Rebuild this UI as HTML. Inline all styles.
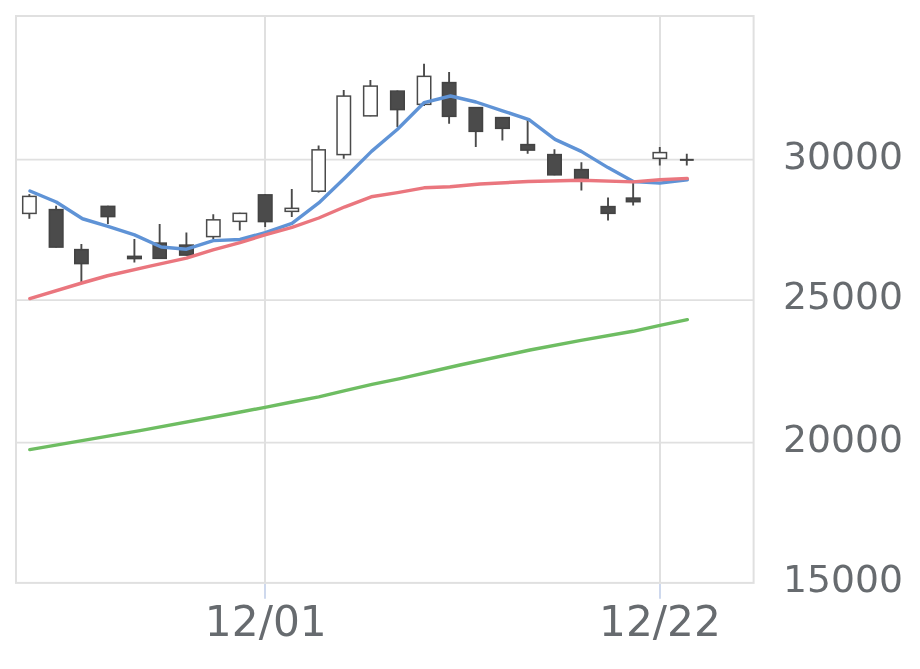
<!DOCTYPE html>
<html lang="en"><head><meta charset="utf-8"><title>Chart</title>
<style>
html,body{margin:0;padding:0;background:#fff;}
body{width:920px;height:669px;overflow:hidden;}
svg{display:block;}
text{font-family:"DejaVu Sans","Liberation Sans",sans-serif;fill:#676b6f;}
.y{font-size:37.7px;}
.x{font-size:42.3px;text-anchor:middle;}
</style></head><body>
<svg width="920" height="669" viewBox="0 0 920 669">
<rect width="920" height="669" fill="#fff"/>
<g stroke="#e0e0e0" stroke-width="2" fill="none">
<rect x="16" y="16" width="737.6" height="566.9"/>
<line x1="16" x2="753.5" y1="159.6" y2="159.6" stroke-width="1.8"/>
<line x1="16" x2="753.5" y1="300.2" y2="300.2" stroke-width="1.8"/>
<line x1="16" x2="753.5" y1="442.6" y2="442.6" stroke-width="1.8"/>
<line x1="265" x2="265" y1="16" y2="582.9"/>
<line x1="660" x2="660" y1="16" y2="582.9"/>
</g>
<g stroke="#ccd7ed" stroke-width="1.9"><line x1="265" x2="265" y1="583.9" y2="598.8"/><line x1="660" x2="660" y1="583.9" y2="598.8"/></g>
<g stroke="#4a4a4a" stroke-width="1.9">
<line x1="29.345" x2="29.345" y1="194.1" y2="218.8"/>
<line x1="56.1" x2="56.1" y1="205.75" y2="247.5"/>
<line x1="81.375" x2="81.375" y1="244" y2="282"/>
<line x1="107.9" x2="107.9" y1="205.75" y2="224"/>
<line x1="134.4" x2="134.4" y1="239" y2="262.5"/>
<line x1="159.65" x2="159.65" y1="224" y2="258.75"/>
<line x1="186.4" x2="186.4" y1="232.5" y2="255.5"/>
<line x1="213.275" x2="213.275" y1="214.25" y2="239"/>
<line x1="239.775" x2="239.775" y1="212.75" y2="230.5"/>
<line x1="265.15" x2="265.15" y1="194.25" y2="227"/>
<line x1="291.775" x2="291.775" y1="189" y2="217"/>
<line x1="318.6" x2="318.6" y1="145.5" y2="192.5"/>
<line x1="343.725" x2="343.725" y1="90" y2="158.75"/>
<line x1="370.4" x2="370.4" y1="80" y2="116.25"/>
<line x1="397.4" x2="397.4" y1="90.5" y2="127"/>
<line x1="424.025" x2="424.025" y1="63.75" y2="106"/>
<line x1="449.1" x2="449.1" y1="72" y2="123.75"/>
<line x1="475.775" x2="475.775" y1="107" y2="147"/>
<line x1="502.4" x2="502.4" y1="117" y2="140.5"/>
<line x1="527.65" x2="527.65" y1="118.75" y2="153.75"/>
<line x1="554.45" x2="554.45" y1="149.25" y2="175.25"/>
<line x1="581.4" x2="581.4" y1="162.25" y2="190.5"/>
<line x1="608.025" x2="608.025" y1="197.5" y2="220.5"/>
<line x1="633.15" x2="633.15" y1="182" y2="205.5"/>
<line x1="659.775" x2="659.775" y1="147" y2="165.5"/>
<line x1="686.775" x2="686.775" y1="153.75" y2="165.5"/>
</g>
<rect x="22.71" y="196.4" width="13.37" height="17" fill="#fff" stroke="#4a4a4a" stroke-width="1.5"/>
<rect x="49.35" y="209.6" width="13.6" height="37.5" fill="#4b4b4b" stroke="#434343" stroke-width="1.5"/>
<rect x="74.75" y="249.6" width="13.35" height="14" fill="#4b4b4b" stroke="#434343" stroke-width="1.5"/>
<rect x="101.15" y="206.35" width="13.6" height="10.25" fill="#4b4b4b" stroke="#434343" stroke-width="1.5"/>
<rect x="127.65" y="256.35" width="13.6" height="2.25" fill="#4b4b4b" stroke="#434343" stroke-width="1.5"/>
<rect x="153.15" y="243.1" width="13.1" height="15.25" fill="#4b4b4b" stroke="#434343" stroke-width="1.5"/>
<rect x="179.65" y="245.1" width="13.6" height="10" fill="#4b4b4b" stroke="#434343" stroke-width="1.5"/>
<rect x="206.65" y="219.85" width="13.35" height="16.75" fill="#fff" stroke="#4a4a4a" stroke-width="1.5"/>
<rect x="233.15" y="213.35" width="13.35" height="8" fill="#fff" stroke="#4a4a4a" stroke-width="1.5"/>
<rect x="258.4" y="194.85" width="13.6" height="26.75" fill="#4b4b4b" stroke="#434343" stroke-width="1.5"/>
<rect x="285.15" y="208.35" width="13.35" height="3" fill="#fff" stroke="#4a4a4a" stroke-width="1.5"/>
<rect x="312.05" y="149.85" width="13.2" height="41.35" fill="#fff" stroke="#4a4a4a" stroke-width="1.5"/>
<rect x="337.05" y="96.1" width="13.45" height="58.5" fill="#fff" stroke="#4a4a4a" stroke-width="1.5"/>
<rect x="363.65" y="86.1" width="13.6" height="29.75" fill="#fff" stroke="#4a4a4a" stroke-width="1.5"/>
<rect x="390.65" y="91.1" width="13.6" height="18.5" fill="#4b4b4b" stroke="#434343" stroke-width="1.5"/>
<rect x="417.4" y="76.35" width="13.35" height="28" fill="#fff" stroke="#4a4a4a" stroke-width="1.5"/>
<rect x="442.45" y="82.6" width="13.4" height="33.75" fill="#4b4b4b" stroke="#434343" stroke-width="1.5"/>
<rect x="469.15" y="107.6" width="13.35" height="23.75" fill="#4b4b4b" stroke="#434343" stroke-width="1.5"/>
<rect x="495.65" y="117.6" width="13.6" height="10.75" fill="#4b4b4b" stroke="#434343" stroke-width="1.5"/>
<rect x="520.9" y="144.6" width="13.6" height="5.5" fill="#4b4b4b" stroke="#434343" stroke-width="1.5"/>
<rect x="547.75" y="154.6" width="13.5" height="20.25" fill="#4b4b4b" stroke="#434343" stroke-width="1.5"/>
<rect x="574.65" y="169.6" width="13.6" height="8.75" fill="#4b4b4b" stroke="#434343" stroke-width="1.5"/>
<rect x="601.15" y="206.6" width="13.85" height="6.75" fill="#4b4b4b" stroke="#434343" stroke-width="1.5"/>
<rect x="626.4" y="198.1" width="13.6" height="3.6" fill="#4b4b4b" stroke="#434343" stroke-width="1.5"/>
<rect x="653.15" y="152.6" width="13.35" height="5.75" fill="#fff" stroke="#4a4a4a" stroke-width="1.5"/>
<rect x="680.65" y="159.6" width="12.35" height="0.5" fill="#4b4b4b" stroke="#434343" stroke-width="1.5"/>
<g fill="none" stroke-width="3.4" stroke-linecap="round" stroke-linejoin="round">
<polyline stroke="#5f93d6" points="30,191 56.25,202 82.5,218.75 108,226.3 134.5,234.9 161.25,247 186.5,249.2 213.25,240.6 240,239.5 265.25,232.6 292,223.4 318.75,202.9 345,177.8 371.5,151.4 397.5,129.3 424,102.7 450.5,96 476,102 502.5,110.8 529,119.7 555,139.4 581.25,151.4 608,167.6 633.25,181.6 659.75,183.1 687.3,179.8"/>
<polyline stroke="#ea767e" points="29.8,298.6 81,283.25 107.5,275.75 150,266.1 186.5,258.1 213,249.9 240,242.6 265,234.9 292,227.4 318.75,218 345,206.8 371.25,196.8 397.5,192.6 424,187.8 450,186.8 480,184 528,181.5 581,180.2 633,181.9 660,179.8 687.3,178.4"/>
<polyline stroke="#6ebd62" points="29.8,449.6 140,430.6 230,414 265,407.3 292,402 318.75,396.9 345,390.6 372,384.4 400,378.6 460,365 530,350 581,340.3 633,331.3 660,325.4 687.3,319.6"/>
</g>
<text class="y" x="783" y="169">30000</text>
<text class="y" x="783" y="309">25000</text>
<text class="y" x="783" y="451.5">20000</text>
<text class="y" x="783" y="591.5">15000</text>
<text class="x" x="265.8" y="635.9">12/01</text>
<text class="x" x="660" y="635.9">12/22</text>
</svg></body></html>
